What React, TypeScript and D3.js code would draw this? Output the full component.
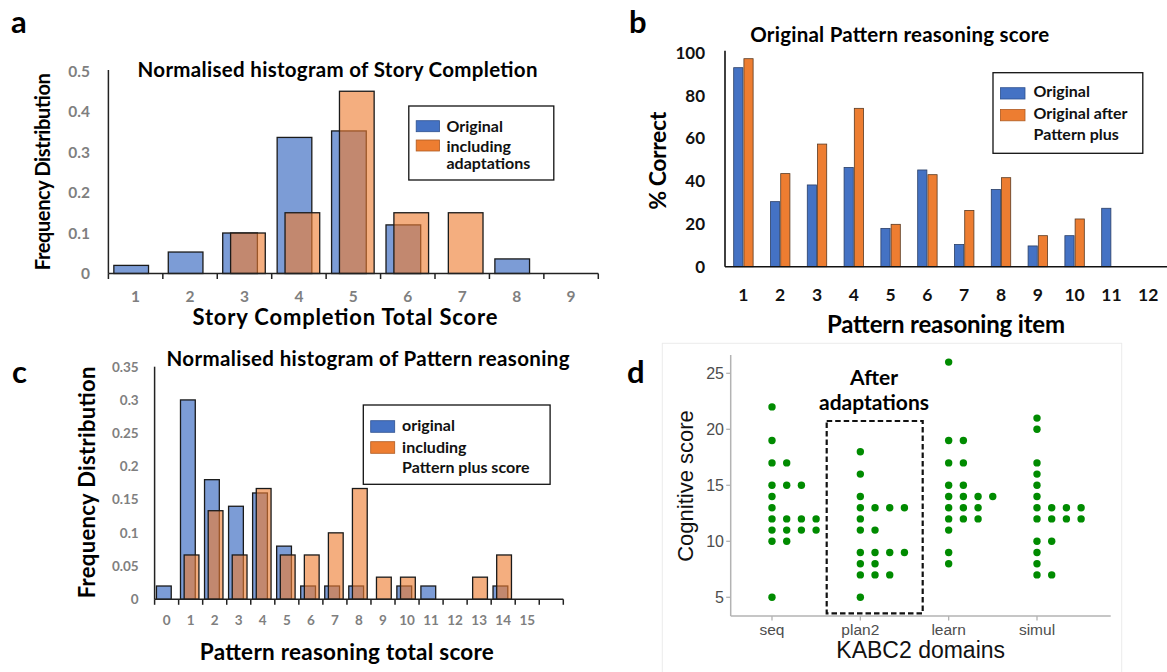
import React from "react";
import * as d3 from "d3";

const W = 1167;
const H = 672;
const SANS = "Lato, 'Open Sans', sans-serif";
const ARIAL = "'Liberation Sans', Arial, sans-serif";
const BLUE = "#4472C4";
const ORANGE = "#ED7D31";
const DOT_GREEN = "#008B00";

// ---- a: Story Completion histogram ----
const storyScores = ["1", "2", "3", "4", "5", "6", "7", "8", "9"];
const storyOriginal = [0.02, 0.053, 0.1, 0.336, 0.352, 0.12, 0, 0.036, 0];
const storyAdapted = [0, 0, 0.1, 0.15, 0.45, 0.15, 0.15, 0, 0];
const storyYTicks = [0, 0.1, 0.2, 0.3, 0.4, 0.5];

// ---- b: per-item Pattern reasoning score ----
const patternItems = ["1", "2", "3", "4", "5", "6", "7", "8", "9", "10", "11", "12"];
const itemOriginal = [93, 30.4, 38.2, 46.4, 17.9, 45.2, 10.4, 36.1, 9.7, 14.5, 27.3, 0];
const itemAfterPlus = [97.2, 43.5, 57.3, 74, 19.8, 43, 26.3, 41.6, 14.5, 22.3, 0, 0];
const itemYTicks = [0, 20, 40, 60, 80, 100];

// ---- c: Pattern reasoning histogram ----
const patternScoreBins = ["0", "1", "2", "3", "4", "5", "6", "7", "8", "9", "10", "11", "12", "13", "14", "15", "16"];
const patternScoreLabels = ["0", "1", "2", "3", "4", "5", "6", "7", "8", "9", "10", "11", "12", "13", "14", "15"];
const patternOriginal = [0.02, 0.3, 0.18, 0.14, 0.16, 0.08, 0.02, 0.02, 0.02, 0, 0.02, 0.02, 0, 0, 0.02, 0, 0];
const patternPlus = [0, 0.0667, 0.1333, 0.0667, 0.1667, 0.0667, 0.0667, 0.1, 0.1667, 0.0333, 0.0333, 0, 0, 0.0333, 0.0667, 0, 0];
const patternYTicks = [0, 0.05, 0.1, 0.15, 0.2, 0.25, 0.3, 0.35];

// ---- d: KABC2 domain scores after adaptations ----
const kabcDomains = ["seq", "plan2", "learn", "simul"];
const seqScores = [22, 19, 17, 17, 15, 15, 15, 14, 13, 12, 12, 12, 12, 11, 11, 11, 11, 10, 10, 5];
const plan2Scores = [18, 16, 14, 13, 13, 13, 13, 12, 11, 11, 9, 9, 9, 9, 8, 8, 7, 7, 7, 5];
const learnScores = [26, 19, 19, 17, 17, 15, 15, 14, 14, 14, 14, 13, 13, 13, 12, 12, 12, 11, 9, 8];
const simulScores = [21, 20, 17, 16, 15, 14, 13, 13, 13, 13, 12, 12, 12, 12, 10, 10, 9, 8, 7, 7];
const kabcYTicks = [5, 10, 15, 20, 25];

type HistProps = {
  bins: string[];
  labels: string[];
  original: number[];
  adapted: number[];
  yTicks: number[];
  yMax: number;
  left: number;
  right: number;
  bottom: number;
  topValuePos: number;
  axisTop: number;
  blueOffset: number;
  orangeOffset: number;
  barFrac: number;
  tickFont: number;
  tickEnd: number;
  labelY: number;
};

function Histogram(p: HistProps) {
  const x = d3.scaleBand<string>().domain(p.bins).range([p.left, p.right]);
  const y = d3.scaleLinear().domain([0, p.yMax]).range([p.bottom, p.topValuePos]);
  const step = x.step();
  const bw = step * p.barFrac;
  const edges = [...p.bins.map((b) => x(b) as number), p.right];
  return (
    <g>
      {p.original.map((v, i) =>
        v > 0 ? (
          <rect
            key={"o" + i}
            x={(x(p.bins[i]) as number) + step * p.blueOffset}
            y={y(v)}
            width={bw}
            height={y(0) - y(v)}
            fill={BLUE}
            fillOpacity={0.7}
            stroke="#1a1a1a"
            strokeWidth={1.3}
          />
        ) : null
      )}
      {p.adapted.map((v, i) =>
        v > 0 ? (
          <rect
            key={"a" + i}
            x={(x(p.bins[i]) as number) + step * p.orangeOffset}
            y={y(v)}
            width={bw}
            height={y(0) - y(v)}
            fill={ORANGE}
            fillOpacity={0.62}
            stroke="#1a1a1a"
            strokeWidth={1.3}
          />
        ) : null
      )}
      <line x1={p.left} x2={p.left} y1={p.axisTop} y2={p.bottom} stroke="#222" strokeWidth={1.5} />
      <line x1={p.left} x2={p.right} y1={p.bottom} y2={p.bottom} stroke="#222" strokeWidth={1.5} />
      {edges.map((e, i) => (
        <line key={"t" + i} x1={e} x2={e} y1={p.bottom} y2={p.bottom + 5.5} stroke="#222" strokeWidth={1.5} />
      ))}
      {p.yTicks.map((t) => (
        <text
          key={"y" + t}
          x={p.tickEnd}
          y={y(t)}
          dy="0.36em"
          textAnchor="end"
          fontFamily={SANS}
          fontWeight={700}
          fontSize={p.tickFont}
          fill="#7f7f7f"
        >
          {String(t)}
        </text>
      ))}
      {p.labels.map((l) => (
        <text
          key={"x" + l}
          x={(x(l) as number) + step / 2}
          y={p.labelY}
          dy="0.36em"
          textAnchor="middle"
          fontFamily={SANS}
          fontWeight={700}
          fontSize={p.tickFont}
          fill="#7f7f7f"
        >
          {l}
        </text>
      ))}
    </g>
  );
}

function Legend(props: {
  x: number; y: number; w: number; h: number;
  swX: number; swW: number; swH: number;
  swY: number[]; textX: number; lines: { text: string; y: number }[];
}) {
  const { x, y, w, h, swX, swW, swH, swY, textX, lines } = props;
  return (
    <g>
      <rect x={x} y={y} width={w} height={h} fill="#fff" stroke="#111" strokeWidth={1.3} />
      <rect x={swX} y={swY[0]} width={swW} height={swH} fill={BLUE} stroke="#2F528F" strokeWidth={0.8} />
      <rect x={swX} y={swY[1]} width={swW} height={swH} fill={ORANGE} stroke="#AE5A21" strokeWidth={0.8} />
      {lines.map((l) => (
        <text key={l.text} x={textX} y={l.y} fontFamily={SANS} fontWeight={700} fontSize={16} fill="#111">
          {l.text}
        </text>
      ))}
    </g>
  );
}

// Bold heading / axis title, stretched to a fixed run length
function Title(props: {
  x: number; y: number; size: number; len: number; text: string; rotate?: boolean;
}) {
  const { x, y, size, len, text, rotate } = props;
  return (
    <text
      transform={rotate ? `translate(${x},${y}) rotate(-90)` : undefined}
      x={rotate ? 0 : x}
      y={rotate ? 0 : y}
      textAnchor="middle"
      fontFamily={SANS}
      fontWeight={700}
      fontSize={size}
      textLength={len}
      lengthAdjust="spacing"
      fill="#000"
    >
      {text}
    </text>
  );
}

function PanelLetter({ x, y, t }: { x: number; y: number; t: string }) {
  return (
    <text x={x} y={y} fontFamily={SANS} fontWeight={700} fontSize={31} fill="#000">
      {t}
    </text>
  );
}

function ItemBars() {
  const left = 725;
  const x = d3.scaleBand<string>().domain(patternItems).range([left, left + 36.8 * patternItems.length]);
  const y = d3.scaleLinear().domain([0, 100]).range([266.7, 52.7]);
  const step = x.step();
  const bw = step * 0.25;
  return (
    <g>
      {itemOriginal.map((v, i) =>
        v > 0 ? (
          <rect key={"b" + i} x={(x(patternItems[i]) as number) + step * 0.236} y={y(v)} width={bw}
            height={y(0) - y(v)} fill={BLUE} stroke="#2b3f66" strokeWidth={0.8} />
        ) : null
      )}
      {itemAfterPlus.map((v, i) =>
        v > 0 ? (
          <rect key={"o" + i} x={(x(patternItems[i]) as number) + step * 0.514} y={y(v)} width={bw}
            height={y(0) - y(v)} fill={ORANGE} stroke="#5a3a22" strokeWidth={0.8} />
        ) : null
      )}
      <line x1={left} x2={left} y1={50.7} y2={266.7} stroke="#111" strokeWidth={1.6} />
      <line x1={left} x2={W} y1={266.7} y2={266.7} stroke="#111" strokeWidth={1.6} />
      {itemYTicks.map((t) => (
        <text key={t} x={705} y={y(t)} dy="0.36em" textAnchor="end" fontFamily={SANS} fontWeight={700}
          fontSize={17} fill="#111">{t}</text>
      ))}
      {patternItems.map((c) => (
        <text key={c} x={(x(c) as number) + step / 2} y={295} dy="0.36em" textAnchor="middle"
          fontFamily={SANS} fontWeight={700} fontSize={17.5} fill="#111">{c}</text>
      ))}
    </g>
  );
}

function DomainDots() {
  const x = d3.scalePoint<string>().domain(kabcDomains).range([772, 1037]);
  const y = d3.scaleLinear().domain([5, 25]).range([597.3, 373.3]);
  const all = [seqScores, plan2Scores, learnScores, simulScores];
  const dots: { cx: number; cy: number; k: string }[] = [];
  all.forEach((scores, di) => {
    const counts = d3.rollup(scores, (v) => v.length, (s) => s);
    counts.forEach((n, val) => {
      for (let j = 0; j < n; j++) {
        dots.push({ cx: (x(kabcDomains[di]) as number) + j * 14.7, cy: y(val), k: `${di}-${val}-${j}` });
      }
    });
  });
  const axisLeft = 730.7;
  const axisBottom = 616;
  return (
    <g>
      <rect x={662.3} y={343.3} width={459.4} height={340} fill="#fff" stroke="#ebebeb" strokeWidth={1} />
      <line x1={axisLeft} x2={axisLeft} y1={355} y2={axisBottom} stroke="#b3b3b3" strokeWidth={1.5} />
      <line x1={axisLeft} x2={1110.7} y1={axisBottom} y2={axisBottom} stroke="#b3b3b3" strokeWidth={1.5} />
      {kabcYTicks.map((t) => (
        <g key={t}>
          <line x1={axisLeft - 4.5} x2={axisLeft} y1={y(t)} y2={y(t)} stroke="#b3b3b3" strokeWidth={1.3} />
          <text x={724} y={y(t)} dy="0.36em" textAnchor="end" fontFamily={ARIAL} fontSize={16} fill="#4d4d4d">{t}</text>
        </g>
      ))}
      {kabcDomains.map((d) => (
        <g key={d}>
          <line x1={x(d)} x2={x(d)} y1={axisBottom} y2={axisBottom + 4.5} stroke="#b3b3b3" strokeWidth={1.3} />
          <text x={x(d)} y={635} textAnchor="middle" fontFamily={ARIAL} fontSize={15.5} fill="#4d4d4d">{d}</text>
        </g>
      ))}
      {dots.map((d) => (
        <circle key={d.k} cx={d.cx} cy={d.cy} r={3.7} fill={DOT_GREEN} />
      ))}
      <rect x={826.7} y={421} width={96} height={192.3} fill="none" stroke="#111" strokeWidth={2.2} strokeDasharray="5.5,3" />
      <text x={874} y={385} textAnchor="middle" fontFamily={SANS} fontWeight={700} fontSize={21} fill="#000">After</text>
      <text x={874} y={410} textAnchor="middle" fontFamily={SANS} fontWeight={700} fontSize={21} fill="#000">adaptations</text>
      <text x={920.7} y={658} textAnchor="middle" fontFamily={ARIAL} fontSize={23} fill="#111">KABC2 domains</text>
      <text transform="translate(693,486) rotate(-90)" textAnchor="middle" fontFamily={ARIAL} fontSize={22} fill="#111">Cognitive score</text>
    </g>
  );
}

export default function App() {
  return (
    <svg width={W} height={H} viewBox={`0 0 ${W} ${H}`}
      style={{ position: "absolute", left: 0, top: 0, background: "#fff" }}>
      <rect width={W} height={H} fill="#fff" />

      {/* a */}
      <PanelLetter x={11} y={33.3} t="a" />
      <Histogram
        bins={storyScores} labels={storyScores} original={storyOriginal} adapted={storyAdapted}
        yTicks={storyYTicks} yMax={0.5} left={108.4} right={598.3} bottom={273.5} topValuePos={71}
        axisTop={70} blueOffset={0.1} orangeOffset={0.245} barFrac={0.637} tickFont={15.5}
        tickEnd={90} labelY={296.7}
      />
      <Title x={337.5} y={77} size={20.5} len={400} text="Normalised histogram of Story Completion" />
      <Title x={345} y={325} size={22} len={305} text="Story Completion Total Score" />
      <Title x={50} y={171.7} size={20} len={197} rotate text="Frequency Distribution" />
      <Legend x={408.8} y={106} w={145} h={74} swX={416.2} swW={23.3} swH={11} swY={[120.7, 140]} textX={446.5}
        lines={[{ text: "Original", y: 131.7 }, { text: "including", y: 151.5 }, { text: "adaptations", y: 169 }]} />

      {/* b */}
      <PanelLetter x={629} y={33} t="b" />
      <ItemBars />
      <Title x={899.7} y={41.5} size={20.5} len={299} text="Original Pattern reasoning score" />
      <Title x={946} y={333} size={24} len={238} text="Pattern reasoning item" />
      <Title x={666} y={160.8} size={23} len={98} rotate text="% Correct" />
      <Legend x={993} y={72.7} w={149.8} h={80.6} swX={1000.4} swW={24.6} swH={11.3} swY={[87.7, 109.5]} textX={1033.5}
        lines={[{ text: "Original", y: 97.3 }, { text: "Original after", y: 119.3 }, { text: "Pattern plus", y: 140 }]} />

      {/* c */}
      <PanelLetter x={12} y={383} t="c" />
      <Histogram
        bins={patternScoreBins} labels={patternScoreLabels} original={patternOriginal} adapted={patternPlus}
        yTicks={patternYTicks} yMax={0.35} left={154.6} right={563.3} bottom={599.3} topValuePos={366.7}
        axisTop={366.7} blueOffset={0.077} orangeOffset={0.229} barFrac={0.615} tickFont={13.5}
        tickEnd={138.7} labelY={620}
      />
      <Title x={368} y={366} size={20.5} len={403} text="Normalised histogram of Pattern reasoning" />
      <Title x={346.8} y={660} size={22.5} len={294} text="Pattern reasoning total score" />
      <Title x={94.5} y={482.5} size={22} len={231.7} rotate text="Frequency Distribution" />
      <Legend x={363.3} y={405} w={186.8} h={79.3} swX={370.7} swW={24} swH={11.6} swY={[420.7, 441.7]} textX={402.1}
        lines={[{ text: "original", y: 431 }, { text: "including", y: 452.7 }, { text: "Pattern plus score", y: 472.7 }]} />

      {/* d */}
      <DomainDots />
      <PanelLetter x={627} y={383.3} t="d" />
    </svg>
  );
}
